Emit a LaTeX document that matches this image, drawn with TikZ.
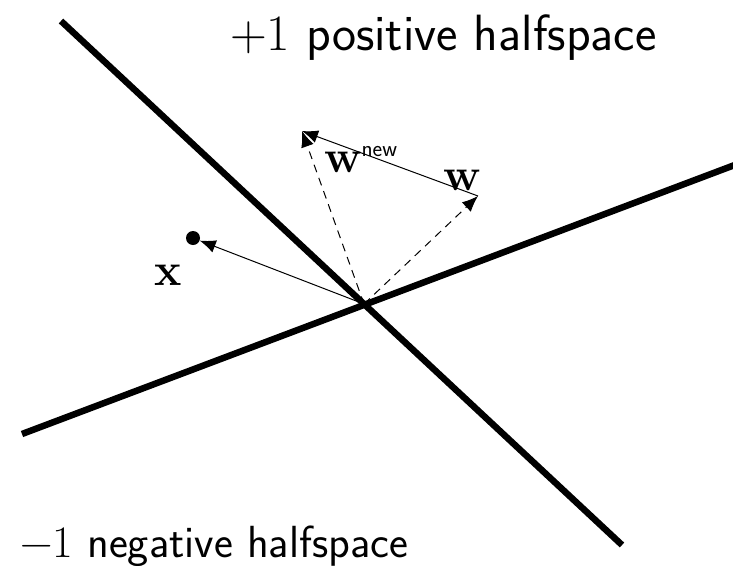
\documentclass[tikz,border=0pt]{standalone}
\usetikzlibrary{arrows.meta}
\begin{document}
\begin{tikzpicture}[x=1pt,y=-1pt,
  thickline/.style={line width=6.5pt},
  vec/.style={line width=1pt,-{Latex[length=16pt,width=13pt]}},
  dvec/.style={vec,dash pattern=on 8pt off 6pt},
  lbl/.style={inner sep=0pt,font=\fontsize{45}{54}\selectfont\sffamily},
  vl/.style={inner sep=0pt,font=\fontsize{46}{55}\selectfont\rmfamily\bfseries}]
\useasboundingbox (0,0) rectangle (733,565);
\coordinate (O) at (364,304);
\coordinate (A1) at (61,21);
\coordinate (A2) at (622,545);
\coordinate (B1) at (22,434);
\coordinate (B2) at (740,163);
\coordinate (W) at (478,196);
\coordinate (WN) at (302,131);
\draw[thickline] (A1) -- (A2);
\draw[thickline] (B1) -- (B2);
\node[circle,fill=black,inner sep=0pt,minimum size=14pt] (X) at (193,238) {};
\draw[vec] (O) -- (X);
\draw[dvec] (O) -- (W);
\draw[dvec] (O) -- (WN);
\draw[vec] (W) -- (WN);
\node[vl] (xl) at (168,275) {x};
\node[vl] (wl) at (462,180) {w};
\node[vl,anchor=base west] (wnl) at (324,172) {w\raisebox{16pt}{\fontsize{23}{27}\selectfont\sffamily\mdseries new}};
\node[lbl,anchor=base west,font=\fontsize{51}{61}\selectfont\sffamily] (top) at (230,50) {{\rmfamily +1} positive halfspace};
\node[lbl,anchor=base west] (bot) at (20,557) {{\rmfamily \char"2212 1} negative halfspace};
\end{tikzpicture}
\end{document}
